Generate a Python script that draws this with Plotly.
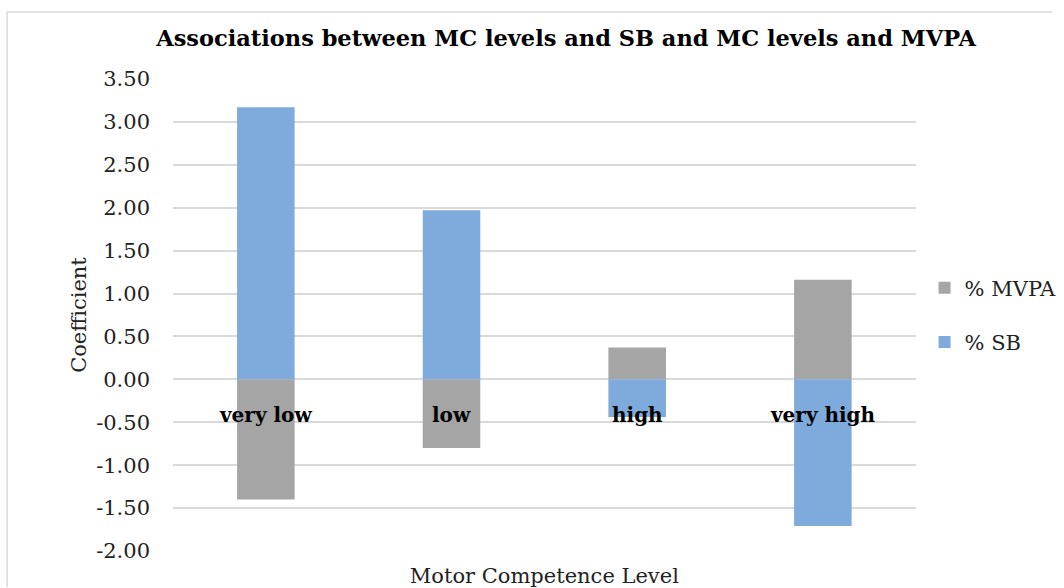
import plotly.graph_objects as go

categories = ["very low", "low", "high", "very high"]
sb_values = [3.17, 1.97, -0.44, -1.71]
mvpa_values = [-1.40, -0.80, 0.37, 1.16]
tick_vals = [-2.0, -1.5, -1.0, -0.5, 0.0, 0.5, 1.0, 1.5, 2.0, 2.5, 3.0, 3.5]
tick_text = [f"{v:.2f}" for v in tick_vals]

FONT = "DejaVu Serif, serif"

W, H = 1064, 588
ML, MR, MT, MB = 173, 2, 79, 37
PW = W - ML - MR
PH = H - MT - MB
PLOT_RIGHT = 925
DOMAIN_R = (PLOT_RIGHT - ML) / PW


def px_x(px):
    return (px - ML) / PW


def px_y(py):
    return (MT + PH - py) / PH


fig = go.Figure()
fig.add_trace(go.Bar(x=categories, y=mvpa_values, name="% MVPA", legendgroup="mvpa",
                     marker=dict(color="#a5a5a5", line=dict(width=0)), width=0.31))
fig.add_trace(go.Bar(x=categories, y=sb_values, name="% SB", legendgroup="sb",
                     marker=dict(color="#7faadc", line=dict(width=0)), width=0.31))

for c in categories:
    fig.add_annotation(x=c, y=0, xref="x", yref="y", text=f"<b>{c}</b>",
                       showarrow=False, yanchor="top", yshift=-22,
                       font=dict(family=FONT, size=20, color="black"))

# outer chart frame (left and top edges only, the rest lies outside the view)
fig.add_shape(type="line", xref="paper", yref="paper",
              x0=px_x(5), x1=px_x(5), y0=px_y(587), y1=px_y(12),
              line=dict(color="#d9d9d9", width=1.5))
fig.add_shape(type="line", xref="paper", yref="paper",
              x0=px_x(5), x1=px_x(1063), y0=px_y(12), y1=px_y(12),
              line=dict(color="#d9d9d9", width=1.5))

fig.update_layout(
    width=W, height=H, autosize=False,
    barmode="relative",
    bargap=0.69,
    paper_bgcolor="white", plot_bgcolor="white",
    margin=dict(l=ML, r=MR, t=MT, b=MB),
    font=dict(family=FONT, size=21, color="#222222"),
    title=dict(text="<b>Associations between MC levels and SB and MC levels and MVPA</b>",
               x=0.532, xref="container", xanchor="center",
               y=1 - 38 / H, yref="container", yanchor="middle",
               font=dict(family=FONT, size=22.5, color="black")),
    xaxis=dict(domain=[0, DOMAIN_R], showticklabels=False, showgrid=False, zeroline=False,
               showline=False, ticks="", automargin=False,
               title=dict(text="Motor Competence Level", standoff=17,
                          font=dict(family=FONT, size=21, color="#222222"))),
    yaxis=dict(range=[-2.0, 3.5], tickvals=tick_vals, ticktext=tick_text,
               showgrid=True, gridcolor="#d9d9d9", gridwidth=1.5,
               zeroline=True, zerolinecolor="#d9d9d9", zerolinewidth=1.5,
               showline=False, ticks="", ticklabelstandoff=22, automargin=False,
               tickfont=dict(family=FONT, size=21, color="#222222"),
               title=dict(text="Coefficient", standoff=3,
                          font=dict(family=FONT, size=21, color="#222222"))),
    legend=dict(x=px_x(934), xanchor="left", y=0.50, yanchor="middle",
                traceorder="grouped", tracegroupgap=24,
                font=dict(family=FONT, size=21, color="#222222"),
                itemwidth=30, bgcolor="rgba(0,0,0,0)"),
)

fig.write_html("out.html", config={"displayModeBar": False, "responsive": False},
               post_script="document.body.style.margin='0';document.body.style.overflow='hidden';")
